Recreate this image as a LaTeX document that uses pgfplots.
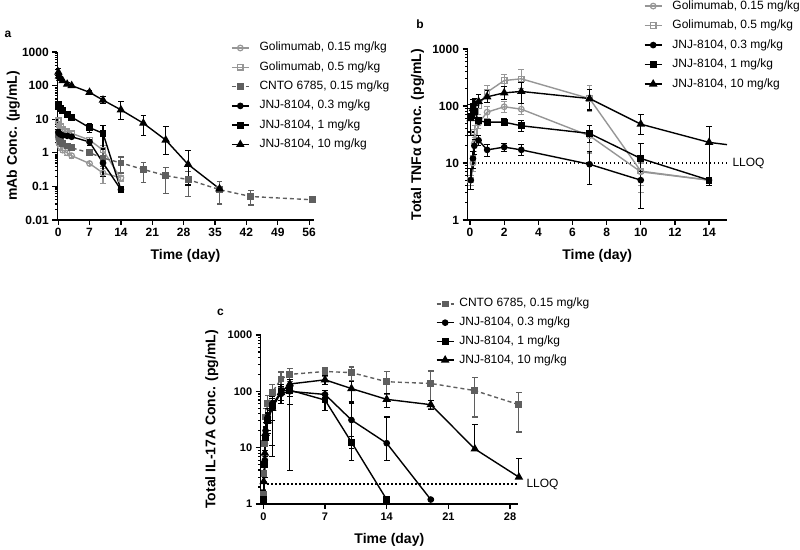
\documentclass[border=0pt]{standalone}
\usepackage{fontspec}
\setmainfont{Liberation Sans}
\usepackage{pgfplots}
\pgfplotsset{compat=1.18}
\definecolor{golc}{RGB}{150,150,150}
\definecolor{cntoc}{RGB}{95,95,95}
\pgfplotsset{
  /pgf/number format/assume math mode=true,
  myaxstyle/.style={scale only axis, clip=false,
    axis x line*=bottom, axis y line*=left,
    axis line style={-, line width=1.5pt},
    tick style={line width=1.2pt, black},
    tick align=outside, major tick length=5pt, minor tick length=2.5pt,
    tick label style={font=\bfseries\fontsize{12}{12}\selectfont},
    label style={font=\bfseries\fontsize{14}{14}\selectfont},
    legend cell align=left,
    legend style={draw=none, fill=none, inner sep=0pt, outer sep=0pt,
      font=\fontsize{12}{13}\selectfont, row sep=6.3pt,
      nodes={inner sep=1pt, text height=8.5pt, text depth=2.5pt},
      anchor=north west},
  },
  myplbase/.style={line width=1.4pt, mark size=2.8pt, mark options={solid}},
  mygolA/.style={myplbase, color=golc, mark=o, mark options={solid, line width=1.2pt, fill=white}},
  mygolB/.style={myplbase, color=golc, mark=square, mark options={solid, line width=1.2pt, fill=white}, mark size=2.7pt},
  mycnto/.style={myplbase, color=cntoc, mark=square*, dash pattern=on 4pt off 3pt, mark size=2.7pt},
  myjA/.style={myplbase, black, mark=*, mark size=2.6pt},
  myjB/.style={myplbase, black, mark=square*, mark size=2.7pt},
  myjC/.style={myplbase, black, mark=triangle*, mark size=3.6pt},
  myeb/.style={error bars/y dir=both, error bars/y explicit,
    error bars/error bar style={line width=1.1pt, solid},
    error bars/error mark options={rotate=90, mark size=2.8pt, line width=1.1pt, solid}},
  mylloq/.style={black, line width=1.2pt, dash pattern=on 1.3pt off 2.7pt, forget plot},
}
\begin{document}
\begin{tikzpicture}
\useasboundingbox (0pt,0pt) rectangle (800pt,549pt);

% ---------------- panel a ----------------
\begin{semilogyaxis}[myaxstyle, at={(57.3pt,329pt)}, anchor=south west,
  width=256.3pt, height=168pt,
  xmin=-0.2, xmax=57, ymin=0.01, ymax=1000,
  xtick={0,7,14,21,28,35,42,49,56},
  ytick={0.01,0.1,1,10,100,1000}, yticklabels={0.01,0.1,1,10,100,1000},
  minor ytick={0.02,0.03,0.04,0.05,0.06,0.07,0.08,0.09,0.2,0.3,0.4,0.5,0.6,0.7,0.8,0.9,2,3,4,5,6,7,8,9,20,30,40,50,60,70,80,90,200,300,400,500,600,700,800,900},
  xlabel={Time (day)}, ylabel={mAb Conc. (µg/mL)},
  xlabel style={at={(axis description cs:0.5,-0.214)}, anchor=center},
  ylabel style={at={(axis description cs:-0.172,0.5)}, anchor=center},
  legend style={at={(0.678,1.0625)}, /tikz/every odd column/.append style={column sep=9pt}},
]
\addplot[mygolA, myeb] table[x=x,y=y,y error plus=ep,y error minus=em] {
x y ep em
0.04 2.6 0.6 0.5
0.17 1.9 0.4 0.3
0.5 1.5 0.3 0.3
1 1.2 0.2 0.2
2 1.0 0.15 0.15
3 0.82 0.12 0.12
7 0.48 0.07 0.07
10 0.25 0.10 0.13
14 0.18 0.03 0.03
};
\addlegendentry{Golimumab, 0.15 mg/kg}
\addplot[mygolB, myeb] table[x=x,y=y,y error plus=ep,y error minus=em] {
x y ep em
0.04 9 2 2
0.17 7 1.5 1.5
0.5 6 1 1
1 5 0.8 0.8
2 4.3 0.6 0.6
3 3.8 0.5 0.5
7 2.4 0.4 0.4
10 1.2 0.5 0.6
14 0.17 0.03 0.03
};
\addlegendentry{Golimumab, 0.5 mg/kg}
\addplot[mycnto, myeb] table[x=x,y=y,y error plus=ep,y error minus=em] {
x y ep em
0.04 3.4 0.5 0.5
0.17 2.6 0.4 0.4
0.5 2.2 0.3 0.3
1 1.9 0.3 0.3
2 1.6 0.2 0.2
3 1.4 0.2 0.2
7 1.0 0.15 0.15
10 0.7 0.3 0.3
14 0.5 0.25 0.25
19 0.32 0.2 0.19
24 0.21 0.15 0.15
29 0.16 0.11 0.11
36 0.08 0.06 0.05
43 0.05 0.025 0.022
56.7 0.04 0.003 0.003
};
\addlegendentry{CNTO 6785, 0.15 mg/kg}
\addplot[myjA, myeb] table[x=x,y=y,y error plus=ep,y error minus=em] {
x y ep em
0.04 4.2 0.6 0.6
0.17 3.8 0.5 0.5
0.5 3.5 0.4 0.4
1 3.3 0.4 0.4
2 3.2 0.4 0.4
3 3.0 0.4 0.4
7 2.1 0.4 0.4
10 0.5 0.3 0.3
14 0.08 0.005 0.005
};
\addlegendentry{JNJ-8104, 0.3 mg/kg}
\addplot[myjB, myeb] table[x=x,y=y,y error plus=ep,y error minus=em] {
x y ep em
0.04 27 4 4
0.17 24 3 3
0.5 21 3 3
1 18 2 2
2 13.5 1.5 1.5
3 11.5 1.5 1.5
7 5.6 2 1.6
10 3.8 2.7 2.5
14 0.08 0.005 0.005
};
\addlegendentry{JNJ-8104, 1 mg/kg}
\addplot[myjC, myeb] table[x=x,y=y,y error plus=ep,y error minus=em] {
x y ep em
0.04 250 80 60
0.17 190 30 30
0.5 165 20 20
1 140 15 15
2 110 10 10
3 100 8 8
7 63 6 6
10 37 11 8
14 19 14 9
19 7.6 5.5 4.3
24 2.4 3.6 1.5
29 0.45 0.75 0.34
36 0.085 0.01 0.01
};
\addlegendentry{JNJ-8104, 10 mg/kg}
\end{semilogyaxis}

% ---------------- panel b ----------------
\begin{semilogyaxis}[myaxstyle, at={(467.5pt,329pt)}, anchor=south west,
  width=259.5pt, height=171pt,
  xmin=-0.15, xmax=15.05, ymin=1, ymax=1000,
  xtick={0,2,4,6,8,10,12,14},
  ytick={1,10,100,1000}, yticklabels={1,10,100,1000},
  minor ytick={2,3,4,5,6,7,8,9,20,30,40,50,60,70,80,90,200,300,400,500,600,700,800,900},
  xlabel={Time (day)}, ylabel={Total TNFα Conc. (pg/mL)},
  xlabel style={at={(axis description cs:0.5,-0.21)}, anchor=center},
  ylabel style={at={(axis description cs:-0.193,0.5)}, anchor=center},
  legend style={at={(0.68,1.289)}, row sep=6.5pt, /tikz/every odd column/.append style={column sep=9pt}},
]
\addplot[mylloq] coordinates {(0,10) (15.05,10)};
\coordinate (lb) at (axis cs:15.05,10);
\addplot[mygolA, myeb] table[x=x,y=y,y error plus=ep,y error minus=em] {
x y ep em
0.04 5 1 1
0.17 10 3 3
0.25 22 6 6
0.5 50 10 10
1 78 20 18
2 97 25 20
3 88 22 18
7 30 15 15
10 7 3 3
14 5 0.5 0.5
};
\addlegendentry{Golimumab, 0.15 mg/kg}
\addplot[mygolB, myeb] table[x=x,y=y,y error plus=ep,y error minus=em] {
x y ep em
0.04 5 1 1
0.17 12 4 4
0.25 35 10 10
0.5 100 30 30
1 175 50 35
2 280 80 60
3 300 140 100
7 135 95 55
10 7.2 4 4.2
14 5 0.5 0.5
};
\addlegendentry{Golimumab, 0.5 mg/kg}
\addplot[myjA, myeb] table[x=x,y=y,y error plus=ep,y error minus=em] {
x y ep em
0.04 5 3 1.6
0.17 12 4 4
0.25 20 6 6
0.5 25 5 5
1 17 4 4
2 19 3 3
3 17 4 3.5
7 9.5 6.5 5.3
10 5 3 3.4
};
\addlegendentry{JNJ-8104, 0.3 mg/kg}
\addplot[myjB, myeb] table[x=x,y=y,y error plus=ep,y error minus=em] {
x y ep em
0.04 65 40 30
0.17 100 30 30
0.25 80 20 20
0.5 55 8 8
1 52 6 6
2 52 8 7
3 45 10 9
7 33 12 10
10 12 10 5
14 5 0.5 0.5
};
\addlegendentry{JNJ-8104, 1 mg/kg}
\addplot[myjC, myeb] table[x=x,y=y,y error plus=ep,y error minus=em] {
x y ep em
0.04 60 30 30
0.17 90 20 20
0.25 110 25 25
0.5 120 40 30
1 145 40 30
2 170 50 40
3 180 80 70
7 135 60 50
10 48 24 16
14 23 20 19
};
\addlegendentry{JNJ-8104, 10 mg/kg}
\addplot[black, line width=1.4pt, forget plot] coordinates {(14,23) (15.05,21)};
\end{semilogyaxis}
\node[anchor=west, font=\fontsize{12}{13}\selectfont] at ([xshift=2pt]lb) {LLOQ};

% ---------------- panel c ----------------
\begin{semilogyaxis}[myaxstyle, at={(260.7pt,45pt)}, anchor=south west,
  width=257.3pt, height=169pt,
  xmin=-0.3, xmax=28.9, ymin=1, ymax=1000,
  xtick={0,7,14,21,28},
  ytick={1,10,100,1000}, yticklabels={1,10,100,1000},
  minor ytick={2,3,4,5,6,7,8,9,20,30,40,50,60,70,80,90,200,300,400,500,600,700,800,900},
  tick label style={font=\bfseries\fontsize{11}{11}\selectfont},
  xlabel={Time (day)}, ylabel={Total IL-17A Conc. (pg/mL)},
  xlabel style={at={(axis description cs:0.5,-0.213)}, anchor=center},
  ylabel style={at={(axis description cs:-0.19,0.5)}, anchor=center},
  legend style={at={(0.681,1.222)}, row sep=5.7pt, /tikz/every odd column/.append style={column sep=4pt}},
]
\addplot[mylloq] coordinates {(0,2.26) (28.9,2.26)};
\coordinate (lc) at (axis cs:28.9,2.26);
\addplot[mycnto, myeb] table[x=x,y=y,y error plus=ep,y error minus=em] {
x y ep em
0.04 1.5 0.3 0.3
0.08 3.5 1 1
0.17 12 5 5
0.25 35 15 15
0.5 60 25 25
1 95 35 30
2 165 55 50
3 200 50 50
7 225 35 40
10 215 55 60
14 148 75 60
19 138 92 88
24 103 72 68
29 58 37 39
};
\addlegendentry{CNTO 6785, 0.15 mg/kg}
\addplot[myjA, myeb] table[x=x,y=y,y error plus=ep,y error minus=em] {
x y ep em
0.04 1.2 0.1 0.1
0.17 6 3 3
0.25 20 8 8
0.5 35 15 15
1 60 20 53
2 90 30 30
3 100 20 20
7 88 15 20
10 31 34 25
14 12 23 6
19 1.2 0.05 0.05
};
\addlegendentry{JNJ-8104, 0.3 mg/kg}
\addplot[myjB, myeb] table[x=x,y=y,y error plus=ep,y error minus=em] {
x y ep em
0.04 1.2 0.1 0.1
0.17 5 3 2
0.25 15 8 8
0.5 30 12 12
1 55 20 44
2 100 30 30
3 105 15 101
7 70 20 25
10 12.5 3 3
14 1.2 0.05 0.05
};
\addlegendentry{JNJ-8104, 1 mg/kg}
\addplot[myjC, myeb] table[x=x,y=y,y error plus=ep,y error minus=em] {
x y ep em
0.04 2.5 0.8 0.8
0.17 8 3 3
0.25 18 6 6
0.5 30 10 10
1 50 20 20
2 95 25 25
3 135 25 77
7 160 30 30
10 112 40 50
14 72 20 20
19 58 12 10
24 9.5 16.5 0.5
29 3 3.5 0.2
};
\addlegendentry{JNJ-8104, 10 mg/kg}
\end{semilogyaxis}
\node[anchor=west, font=\fontsize{12}{13}\selectfont] at ([xshift=5pt]lc) {LLOQ};

\node[font=\bfseries\fontsize{12}{12}\selectfont] at (8pt,515pt) {a};
\node[font=\bfseries\fontsize{12}{12}\selectfont] at (420pt,524.5pt) {b};
\node[font=\bfseries\fontsize{12}{12}\selectfont] at (220.5pt,237pt) {c};
\end{tikzpicture}
\end{document}
